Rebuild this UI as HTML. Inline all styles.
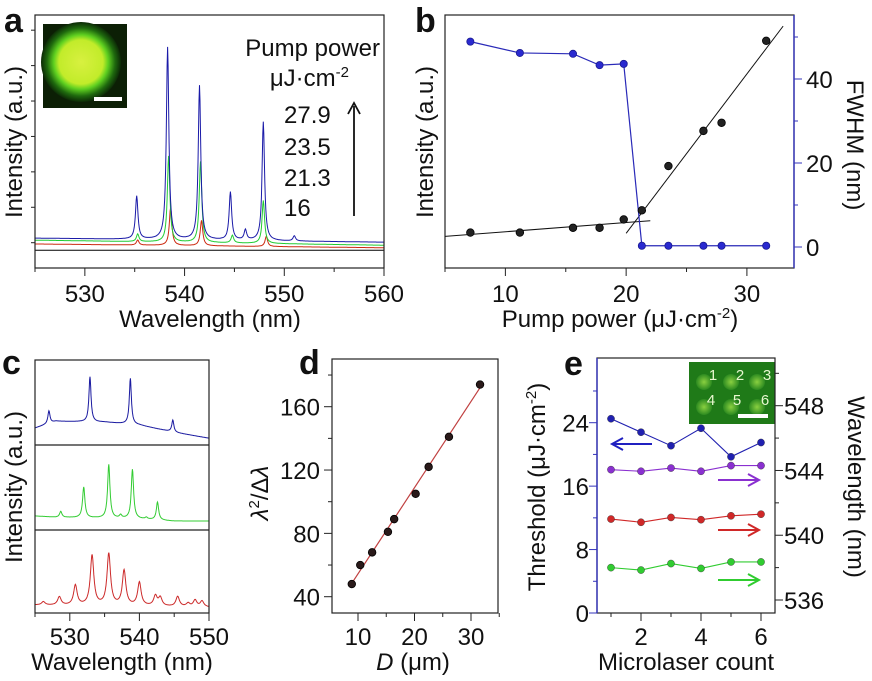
<!DOCTYPE html>
<html><head><meta charset="utf-8"><style>
html,body{margin:0;padding:0;background:#fff;}
svg{display:block;font-family:"Liberation Sans",Arial,sans-serif;}
</style></head><body>
<svg id="fig" width="872" height="681" viewBox="0 0 872 681" xmlns="http://www.w3.org/2000/svg">
<defs>
<radialGradient id="gA" cx="50%" cy="50%" r="50%">
<stop offset="0" stop-color="#d8f040"/><stop offset="0.55" stop-color="#c2ec2a"/><stop offset="0.68" stop-color="#5fd020"/><stop offset="0.85" stop-color="#1f6a0e"/><stop offset="1" stop-color="#0c2a06"/>
</radialGradient>
<radialGradient id="gE" cx="50%" cy="50%" r="50%">
<stop offset="0" stop-color="#8ad040"/><stop offset="1" stop-color="#2c8a20"/>
</radialGradient>
</defs>
<g id="root"></g>
</svg>
<script>
// ---------- DATA ----------
const aSeriesNames = ['16','21.3','23.5','27.9'];
const aColors = ['#000000','#cc2a10','#22cc33','#1a1aa8'];
const aBaseStart = [7, 9.5, 11, 11.8];
const aBaseEnd = [7, 8, 9, 10.2];
const aPeakCenters = [[], [535.3,538.6,541.7,548.2], [535.3,538.4,541.6,544.8,547.9], [535.2,538.3,541.5,544.6,546.1,547.9,551]];
const aPeakHeights = [[], [2,15,10,4], [3,34,32,3,17], [17,76,61,19,4,47,2]];
const aTicks = [530,540,550,560];
const bPower = [7.1,11.2,15.6,17.8,19.8,21.3,23.5,26.4,27.9,31.6];
const bIntensity = [14,14,15.9,15.9,19.2,22.8,40.3,54.2,57.4,89.8];
const bFwhm = [48.9,46.2,46,43.3,43.6,0.3,0.3,0.3,0.3,0.3];
const bFitLowX = [5,22];
const bFitLowY = [12.5,18.7];
const bFitHighX = [20,33];
const bFitHighY = [13.7,95.6];
const bXTicks = [10,20,30];
const bYTicks = [0,20,40];
const cBaseKnotsX = [525,528,535,540,545,550];
const cBaseBlue = [20,28,27,23.5,15,8];
const cBaseGreen = [16.5,15,14,13,10.5,10.5];
const cBaseRed = [9.6,9.2,8.8,8.4,7.6,7];
const cPeaksBlueX = [527,532.9,538.7,544.8];
const cPeaksBlueH = [15,53,54,14];
const cPeaksGreenX = [528.7,532,535.6,537.3,539,541,542.6];
const cPeaksGreenH = [7,36,63,3.5,58,2,21];
const cPeaksRedX = [526.2,528.5,530.8,533.2,535.6,537.8,540,542.3,543,545.5,547,548,549];
const cPeaksRedH = [4,10,24,60,62,42,28,12,10,12,4,8,7];
const cTicks = [530,540,550];
const dDiam = [8.9,10.4,12.5,15.3,16.4,20.2,22.5,26.1,31.6];
const dRatio = [48,60,68,81,89,105,122,141,174];
const dFitX = [9,31.6];
const dFitY = [49,172];
const dXTicks = [10,20,30];
const dYTicks = [40,80,120,160];
const eCount = [1,2,3,4,5,6];
const eThreshold = [24.5,22.8,21.1,23.3,19.7,21.5];
const eWavePurple = [544.05,543.95,544.15,543.95,544.3,544.3];
const eWaveRed = [541.0,540.8,541.1,540.96,541.2,541.3];
const eWaveGreen = [538.0,537.85,538.25,537.95,538.35,538.35];
const eXTicks = [2,4,6];
const eYTicks = [0,8,16,24];
const eY2Ticks = [536,540,544,548];

// ---------- helpers ----------
const FS=24, FT=24, FL=34;
const NS='http://www.w3.org/2000/svg';
const root=document.getElementById('root');
function mk(tag, attrs, parent){const e=document.createElementNS(NS,tag);for(const k in attrs)e.setAttribute(k,attrs[k]);(parent||root).appendChild(e);return e;}
function lin(d0,d1,r0,r1){return v=>r0+(v-d0)*(r1-r0)/(d1-d0);}
function txt(x,y,s,size,anchor,extra,parent){const t=mk('text',Object.assign({x:x,y:y,'font-size':size,'text-anchor':anchor||'middle',fill:'#111'},extra||{}),parent);t.textContent=s;return t;}
function lor(x,cs,hs,w){let s=0;for(let i=0;i<cs.length;i++){const d=(x-cs[i])/w;s+=hs[i]/(1+d*d);}return s;}
function interp(x,kx,ky){for(let i=0;i<kx.length-1;i++){if(x<=kx[i+1]){return ky[i]+(x-kx[i])*(ky[i+1]-ky[i])/(kx[i+1]-kx[i]);}}return ky[ky.length-1];}

// ---------- panel a ----------
{
const g=mk('g',{});


const X=lin(525,560,35,384), Y=lin(0,100,268,15);
for(let s=0;s<aSeriesNames.length;s++){
  let d='';
  for(let w=525;w<=560.001;w+=0.05){
    const b=aBaseStart[s]+(aBaseEnd[s]-aBaseStart[s])*(w-525)/35;
    const v=b+lor(w,aPeakCenters[s],aPeakHeights[s],0.15);
    d+=(d?'L':'M')+X(w).toFixed(1)+','+Y(v).toFixed(1);
  }
  const p=mk('path',{d:d,fill:'none',stroke:aColors[s],'stroke-width':1},g);
  
  
}
const box=mk('rect',{x:35,y:15,width:349,height:253,fill:'none',stroke:'#222','stroke-width':1.2},g);


for(let v=525;v<=560;v+=5){const mj=aTicks.includes(v);mk('line',{x1:X(v),x2:X(v),y1:268,y2:mj?276:272,stroke:'#222'},g);}
for(let k=0;k<8;k++){mk('line',{x1:35,x2:31,y1:Y(k*14+10),y2:Y(k*14+10),stroke:'#222'},g);}
aTicks.forEach(v=>{const t=txt(X(v),302,String(v),FS,'middle',{},g);});
const xt=txt(210,327,'Wavelength (nm)',FT,'middle',{},g);


const yt=txt(0,0,'Intensity (a.u.)',FT,'middle',{transform:'translate(22,142) rotate(-90)'},g);


const ins=mk('g',{},g);


mk('rect',{x:43,y:24,width:84,height:84,fill:'#0c1f05'},ins);
mk('circle',{cx:81,cy:62,r:40,fill:'url(#gA)'},ins);
mk('rect',{x:94,y:97,width:28,height:4,fill:'#fff'},ins);
const l1=txt(380,56,'Pump power',FT,'end',{},g);


const l2=mk('text',{x:349,y:86,'font-size':FT,'text-anchor':'end',fill:'#111'},g);
l2.innerHTML='μJ·cm<tspan dy="-9" font-size="15">-2</tspan>';


const ys=[207,177,146,114];
for(let s=0;s<aSeriesNames.length;s++){const t=txt(284,ys[s]+9,aSeriesNames[s],FT,'start',{},g);}
const ar=mk('g',{},g);


mk('line',{x1:354,y1:216,x2:354,y2:106,stroke:'#111','stroke-width':1.8},ar);
mk('path',{d:'M348,114 L354,103 L360,114',fill:'none',stroke:'#111','stroke-width':1.8},ar);
const la=txt(4,32,'a',FL,'start',{'font-weight':'bold'},g);


}

// ---------- panel b ----------
{
const g=mk('g',{});


const X=lin(5,33.9,445,794), Y=lin(0,100,268,15), Y2=lin(0,40,247,79);
const box=mk('rect',{x:445,y:15,width:349,height:253,fill:'none',stroke:'#222','stroke-width':1.2},g);


mk('line',{x1:794,x2:794,y1:15,y2:268,stroke:'#3333bb','stroke-width':1.4},g);
for(let v=5;v<=33;v+=5){const mj=bXTicks.includes(v);mk('line',{x1:X(v),x2:X(v),y1:268,y2:mj?276:272,stroke:'#222'},g);}
for(let v=0;v<=50;v+=10){const mj=bYTicks.includes(v);mk('line',{x1:794,x2:mj?802:798,y1:Y2(v),y2:Y2(v),stroke:'#3333bb'},g);}
bXTicks.forEach(v=>{const t=txt(X(v),302,String(v),FS,'middle',{},g);});
bYTicks.forEach(v=>{const t=txt(806,Y2(v)+9,String(v),FS,'start',{},g);});
const xt=mk('text',{x:620,y:327,'font-size':FT,'text-anchor':'middle',fill:'#111'},g);
xt.innerHTML='Pump power (μJ·cm<tspan dy="-9" font-size="15">-2</tspan><tspan dy="9">)</tspan>';


const yt=txt(0,0,'Intensity (a.u.)',FT,'middle',{transform:'translate(433,142) rotate(-90)'},g);


const y2t=txt(0,0,'FWHM (nm)',FT,'middle',{transform:'translate(847,145) rotate(90)'},g);


const f1=mk('line',{x1:X(bFitLowX[0]),y1:Y(bFitLowY[0]),x2:X(bFitLowX[1]),y2:Y(bFitLowY[1]),stroke:'#111','stroke-width':1},g);


const f2=mk('line',{x1:X(bFitHighX[0]),y1:Y(bFitHighY[0]),x2:X(bFitHighX[1]),y2:Y(bFitHighY[1]),stroke:'#111','stroke-width':1},g);


const fl=mk('polyline',{points:bPower.map((p,i)=>X(p)+','+Y2(bFwhm[i])).join(' '),fill:'none',stroke:'#2a2ab8','stroke-width':1.2},g);


bPower.forEach((p,i)=>{
  const c=mk('circle',{cx:X(p),cy:Y2(bFwhm[i]),r:3.6,fill:'#2a2ad0',stroke:'#1a1a90','stroke-width':0.8},g);
  
  
  const c2=mk('circle',{cx:X(p),cy:Y(bIntensity[i]),r:3.8,fill:'#222',stroke:'#000','stroke-width':0.8},g);
  
  
});
const lb=txt(415,32,'b',FL,'start',{'font-weight':'bold'},g);


}

// ---------- panel c ----------
{
const g=mk('g',{});


const X=lin(525,550,35,209);
const subs=[{top:360,bot:445,b:cBaseBlue,px:cPeaksBlueX,ph:cPeaksBlueH,col:'#1a1aa0',w:0.18,n:'blue'},
            {top:445,bot:530,b:cBaseGreen,px:cPeaksGreenX,ph:cPeaksGreenH,col:'#33cc33',w:0.2,n:'green'},
            {top:530,bot:613,b:cBaseRed,px:cPeaksRedX,ph:cPeaksRedH,col:'#cc2a2a',w:0.3,n:'red'}];
subs.forEach(s=>{
  const Y=lin(0,100,s.bot,s.top);
  let d='';
  for(let w=525;w<=550.001;w+=0.05){const v=interp(w,cBaseKnotsX,s.b)+lor(w,s.px,s.ph,s.w);d+=(d?'L':'M')+X(w).toFixed(1)+','+Y(v).toFixed(1);}
  const p=mk('path',{d:d,fill:'none',stroke:s.col,'stroke-width':1},g);
  
  
});
const box=mk('rect',{x:35,y:360,width:174,height:253,fill:'none',stroke:'#222','stroke-width':1.2},g);


mk('line',{x1:35,x2:209,y1:445,y2:445,stroke:'#222','stroke-width':1.2},g);
mk('line',{x1:35,x2:209,y1:530,y2:530,stroke:'#222','stroke-width':1.2},g);
for(let v=525;v<=550;v+=5){const mj=cTicks.includes(v);mk('line',{x1:X(v),x2:X(v),y1:613,y2:mj?621:617,stroke:'#222'},g);}
cTicks.forEach(v=>{const t=txt(X(v),645,String(v),FS,'middle',{},g);});
const xt=txt(122,670,'Wavelength (nm)',FT,'middle',{},g);


const yt=txt(0,0,'Intensity (a.u.)',FT,'middle',{transform:'translate(22,487) rotate(-90)'},g);


const lc=txt(2,374,'c',FL,'start',{'font-weight':'bold'},g);


}

// ---------- panel d ----------
{
const g=mk('g',{});


const X=lin(10,30,358,471), Y=lin(40,160,596.7,406.7);
const box=mk('rect',{x:332,y:359,width:166,height:254,fill:'none',stroke:'#222','stroke-width':1.2},g);


for(let v=10;v<=35;v+=5){const mj=dXTicks.includes(v);mk('line',{x1:X(v),x2:X(v),y1:613,y2:mj?621:617,stroke:'#222'},g);}
for(let v=40;v<=180;v+=20){const mj=dYTicks.includes(v);mk('line',{x1:332,x2:mj?324:328,y1:Y(v),y2:Y(v),stroke:'#222'},g);}
dXTicks.forEach(v=>{const t=txt(X(v),645,String(v),FS,'middle',{},g);});
dYTicks.forEach(v=>{const t=txt(320,Y(v)+9,String(v),FS,'end',{},g);});
const xt=mk('text',{x:413,y:670,'font-size':FT,'text-anchor':'middle',fill:'#111'},g);
xt.innerHTML='<tspan font-style="italic">D</tspan> (μm)';


const yt=mk('text',{'font-size':FT,'text-anchor':'middle',fill:'#111',transform:'translate(268,493) rotate(-90)'},g);
yt.innerHTML='<tspan font-style="italic">λ</tspan><tspan dy="-9" font-size="15">2</tspan><tspan dy="9">/Δ</tspan><tspan font-style="italic">λ</tspan>';


const fit=mk('line',{x1:X(dFitX[0]),y1:Y(dFitY[0]),x2:X(dFitX[1]),y2:Y(dFitY[1]),stroke:'#c04040','stroke-width':1.2},g);


dDiam.forEach((v,i)=>{const c=mk('circle',{cx:X(v),cy:Y(dRatio[i]),r:3.8,fill:'#2a1a1a',stroke:'#000','stroke-width':0.8},g);});
const ld=txt(299,374,'d',FL,'start',{'font-weight':'bold'},g);


}

// ---------- panel e ----------
{
const g=mk('g',{});


const X=lin(1,6,611,761), Y=lin(0,24,613,422.7), Y2=lin(536,548,600,405.7);
const ins=mk('g',{},g);


mk('rect',{x:689,y:362,width:86,height:62,fill:'#1f7a18'},ins);
[[704,382],[731,382],[757,382],[704,407],[731,407],[757,407]].forEach(p=>mk('circle',{cx:p[0],cy:p[1],r:8,fill:'url(#gE)'},ins));
[['1',713,380],['2',740,380],['3',767,380],['4',711,405],['5',737,405],['6',765,405]].forEach(t=>txt(t[1],t[2],t[0],15,'middle',{fill:'#e8f8d0'},ins));
mk('rect',{x:738,y:414,width:30,height:4,fill:'#fff'},ins);
const box=mk('rect',{x:597,y:358,width:178,height:255,fill:'none',stroke:'#222','stroke-width':1.2},g);


mk('line',{x1:597,x2:597,y1:358,y2:613,stroke:'#3333bb','stroke-width':1.4},g);
for(let v=1;v<=6;v++){const mj=eXTicks.includes(v);mk('line',{x1:X(v),x2:X(v),y1:613,y2:mj?621:617,stroke:'#222'},g);}
for(let v=0;v<=28;v+=4){const mj=eYTicks.includes(v);mk('line',{x1:597,x2:mj?589:593,y1:Y(v),y2:Y(v),stroke:'#3333bb'},g);}
for(let v=536;v<=550;v+=2){const mj=eY2Ticks.includes(v);mk('line',{x1:775,x2:mj?783:779,y1:Y2(v),y2:Y2(v),stroke:'#222'},g);}
eXTicks.forEach(v=>{const t=txt(X(v),645,String(v),FS,'middle',{},g);});
eYTicks.forEach(v=>{const t=txt(589,Y(v)+9,String(v),FS,'end',{},g);});
eY2Ticks.forEach(v=>{const t=txt(784,Y2(v)+9,String(v),FS,'start',{},g);});
const xt=txt(686,670,'Microlaser count',FT,'middle',{},g);


const yt=mk('text',{'font-size':FT,'text-anchor':'middle',fill:'#111',transform:'translate(545,487) rotate(-90)'},g);
yt.innerHTML='Threshold (μJ·cm<tspan dy="-9" font-size="15">-2</tspan><tspan dy="9">)</tspan>';


const y2t=txt(0,0,'Wavelength (nm)',FT,'middle',{transform:'translate(848,487) rotate(90)'},g);


const series=[{v:eThreshold,s:Y,c:'#2020b0',n:'threshold'},{v:eWavePurple,s:Y2,c:'#8a30d0',n:'wavelength-purple'},{v:eWaveRed,s:Y2,c:'#d02828',n:'wavelength-red'},{v:eWaveGreen,s:Y2,c:'#30cc30',n:'wavelength-green'}];
series.forEach(s=>{
  const pl=mk('polyline',{points:eCount.map((c,i)=>X(c)+','+s.s(s.v[i])).join(' '),fill:'none',stroke:s.c,'stroke-width':1.1},g);
  
  
  eCount.forEach((c,i)=>{const p=mk('circle',{cx:X(c),cy:s.s(s.v[i]),r:3.6,fill:s.c,stroke:'#333','stroke-width':0.4},g);});
});
function arrow(x1,x2,y,col,name){const a=mk('g',{},g);mk('line',{x1:x1,x2:x2,y1:y,y2:y,stroke:col,'stroke-width':2},a);const d=x2>x1?1:-1;mk('path',{d:'M'+(x2-d*11)+','+(y-6)+' L'+x2+','+y+' L'+(x2-d*11)+','+(y+6),fill:'none',stroke:col,'stroke-width':2},a);}
arrow(652,612,444,'#2020c0','axis-arrow-threshold');
arrow(718,759,480,'#8a30d0','axis-arrow-purple');
arrow(718,759,530,'#d02828','axis-arrow-red');
arrow(718,759,580,'#30cc30','axis-arrow-green');
const le=txt(564,375,'e',FL,'start',{'font-weight':'bold'},g);


}
</script>
</body></html>
